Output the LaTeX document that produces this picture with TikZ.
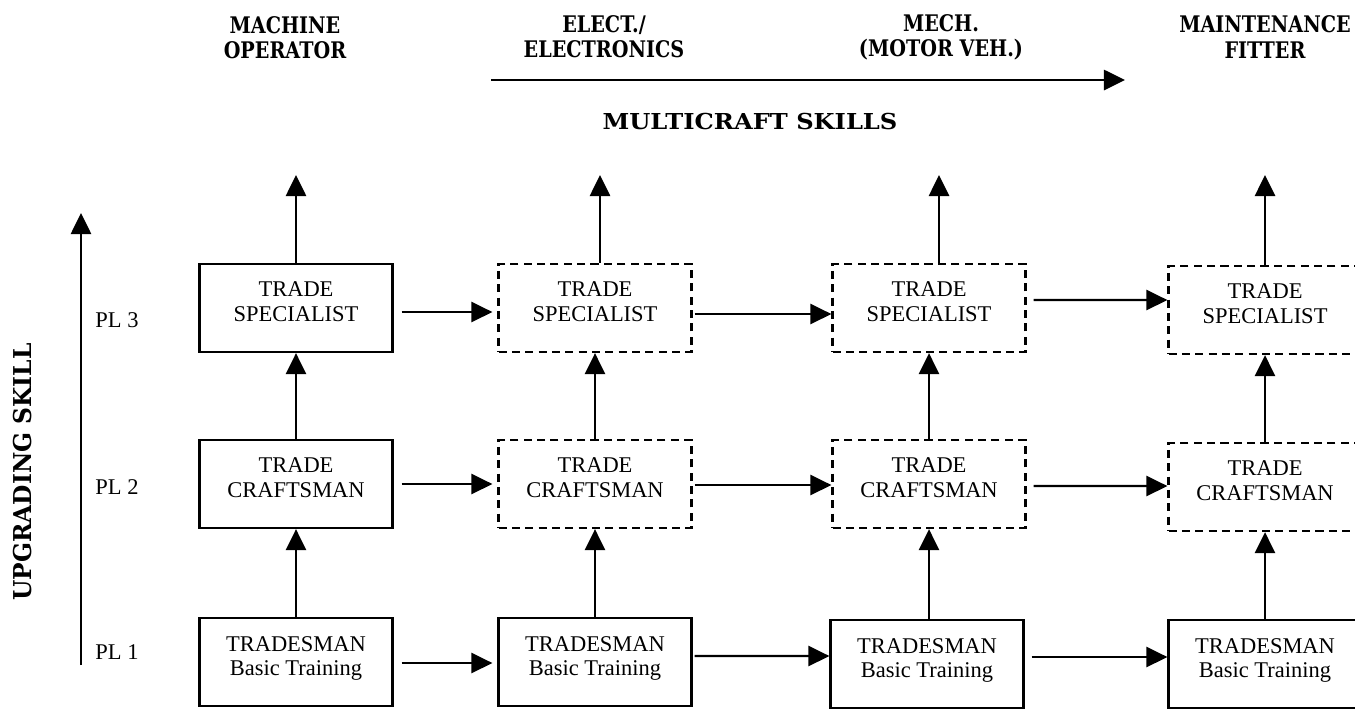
\documentclass[tikz,border=0pt]{standalone}
\usepackage{fontspec}
\setmainfont{Liberation Serif}
\newfontfamily\headfam{DejaVu Serif}[FakeStretch=1.1]
\newfontfamily\colfam{DejaVu Serif}[FakeStretch=0.84]
\newfontfamily\sidefam{DejaVu Serif}[FakeStretch=0.95]
\usetikzlibrary{arrows.meta}

\tikzset{
  box/.style={draw,line width=1.3pt,minimum width=3.86cm,minimum height=1.76cm,
    align=center,inner sep=0pt,text depth=6.8pt,font=\fontsize{12.8}{14.2}\selectfont},
  dbox/.style={box,dash pattern=on 4.6pt off 3pt},
  arr/.style={line width=1.3pt,-{Triangle[length=12pt,width=11.5pt]}},
  head/.style={align=center,font=\headfam\bfseries\fontsize{12.5}{12.8}\selectfont},
  colhead/.style={align=center,font=\colfam\bfseries\fontsize{13}{14.3}\selectfont},
  sidehead/.style={font=\sidefam\bfseries\fontsize{14}{14}\selectfont},
  lvl/.style={font=\fontsize{12.8}{14.2}\selectfont}
}

\begin{document}
\begin{tikzpicture}[x=0.02cm,y=-0.02cm]
  \useasboundingbox (0,0) rectangle (1355,708);
  \clip (0,0) rectangle (1355,708);
  % column headings
  \node[colhead] (hmo) at (285,38) {MACHINE\\OPERATOR};
  \node[colhead] (hel) at (604,37) {ELECT./\\ELECTRONICS};
  \node[colhead] (hme) at (941,37) {MECH.\\(MOTOR VEH.)};
  \node[colhead] (hmf) at (1265,37) {MAINTENANCE\\FITTER};
  \node[head] (hmc) at (750,121) {MULTICRAFT SKILLS};
  \coordinate (mcs) at (491,80);
  \coordinate (mce) at (1125,80);
  \draw[arr] (mcs) -- (mce);
  % skill axis
  \node[sidehead,rotate=90] (hup) at (23,472) {UPGRADING SKILL};
  \coordinate (ups) at (81,665);
  \coordinate (upe) at (81,213);
  \draw[arr] (ups) -- (upe);
  \node[lvl] (pl3) at (117,320) {PL 3};
  \node[lvl] (pl2) at (117,487) {PL 2};
  \node[lvl] (pl1) at (117,652) {PL 1};
  % boxes
  \node[box]  (c1p3) at (296,308) {TRADE\\SPECIALIST};
  \node[box]  (c1p2) at (296,484) {TRADE\\CRAFTSMAN};
  \node[box]  (c1p1) at (296,662) {TRADESMAN\\Basic Training};
  \node[dbox] (c2p3) at (595,308) {TRADE\\SPECIALIST};
  \node[dbox] (c2p2) at (595,484) {TRADE\\CRAFTSMAN};
  \node[box]  (c2p1) at (595,662) {TRADESMAN\\Basic Training};
  \node[dbox] (c3p3) at (929,308) {TRADE\\SPECIALIST};
  \node[dbox] (c3p2) at (929,484) {TRADE\\CRAFTSMAN};
  \node[box]  (c3p1) at (927,664) {TRADESMAN\\Basic Training};
  \node[dbox] (c4p3) at (1265,310) {TRADE\\SPECIALIST};
  \node[dbox] (c4p2) at (1265,487) {TRADE\\CRAFTSMAN};
  \node[box]  (c4p1) at (1265,664) {TRADESMAN\\Basic Training};
  % upward arrows
  \coordinate (top1) at (296,175);
  \coordinate (top2) at (600,175);
  \coordinate (top3) at (939,175);
  \coordinate (top4) at (1265,175);
  \draw[arr] (c1p3.north) -- (top1);
  \draw[arr] (c2p3.north -| top2) -- (top2);
  \draw[arr] (c3p3.north -| top3) -- (top3);
  \draw[arr] (c4p3.north) -- (top4);
  \draw[arr] (c1p2) -- (c1p3);
  \draw[arr] (c1p1) -- (c1p2);
  \draw[arr] (c2p2) -- (c2p3);
  \draw[arr] (c2p1) -- (c2p2);
  \draw[arr] (c3p2) -- (c3p3);
  \draw[arr] (c3p1.north -| c3p2) -- (c3p2);
  \draw[arr] (c4p2) -- (c4p3);
  \draw[arr] (c4p1) -- (c4p2);
  % sideways arrows
  \draw[arr,shorten <=0.16cm,shorten >=0.1cm] ([yshift=-0.08cm]c1p3.east) -- ([yshift=-0.08cm]c2p3.west);
  \draw[arr,shorten <=0.16cm,shorten >=0.1cm] (c1p2.east) -- (c1p2.east -| c2p2.west);
  \draw[arr,shorten <=0.16cm,shorten >=0.1cm] ([yshift=-0.02cm]c1p1.east) -- ([yshift=-0.02cm]c2p1.west);
  \draw[arr,shorten <=0.04cm] ([yshift=-0.12cm]c2p3.east) -- ([yshift=-0.12cm]c3p3.west);
  \draw[arr,shorten <=0.04cm] ([yshift=-0.02cm]c2p2.east) -- ([yshift=-0.02cm]c3p2.west);
  \draw[arr,shorten <=0.04cm] ([yshift=0.12cm]c2p1.east) -- ([yshift=0.16cm]c3p1.west);
  \draw[arr,shorten <=0.14cm] ([yshift=0.16cm]c3p3.east) -- ([yshift=0.2cm]c4p3.west);
  \draw[arr,shorten <=0.14cm] ([yshift=-0.04cm]c3p2.east) -- ([yshift=0.02cm]c4p2.west);
  \draw[arr,shorten <=0.14cm] ([yshift=0.14cm]c3p1.east) -- ([yshift=0.14cm]c4p1.west);
\end{tikzpicture}
\end{document}
